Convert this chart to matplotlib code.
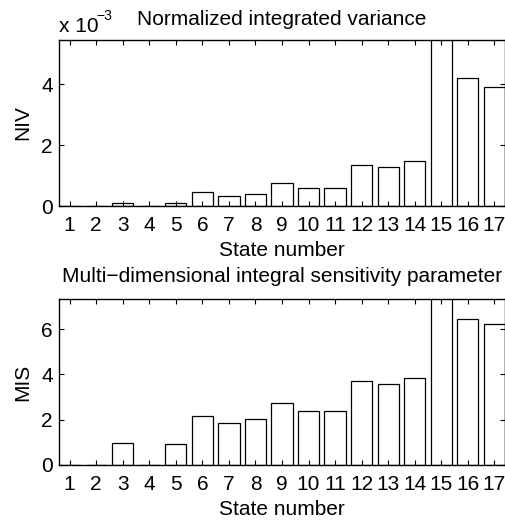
import numpy as np
import matplotlib
matplotlib.use('Agg')
import matplotlib.pyplot as plt
from matplotlib.ticker import MultipleLocator, FuncFormatter

matplotlib.rcParams['font.family'] = ['Liberation Sans', 'DejaVu Sans']
matplotlib.rcParams['font.size'] = 15

# state numbers and the two sensitivity measures
states = np.arange(1, 18)
niv = np.array([0.01, 0.01, 0.10, 0.01, 0.09, 0.47, 0.34, 0.41, 0.76,
                0.58, 0.59, 1.36, 1.27, 1.48, 9.0, 4.20, 3.90]) * 1e-3
mis = np.array([0.02, 0.02, 0.96, 0.02, 0.94, 2.18, 1.84, 2.02, 2.73,
                2.39, 2.40, 3.69, 3.57, 3.86, 10.5, 6.46, 6.22])

W, H = 506, 521
fig = plt.figure(figsize=(W / 100, H / 100), dpi=100)
ax1 = fig.add_axes([59 / W, 1 - 206 / H, 446 / W, 166 / H])
ax2 = fig.add_axes([59 / W, 1 - 465 / H, 446 / W, 166 / H])


def style(ax):
    ax.set_xticks(states)
    ax.margins(x=0)
    ax.tick_params(direction='in', length=3.5, width=0.8, top=True, right=True,
                   labelsize=15)
    ax.tick_params(axis='x', pad=7.5)
    ax.tick_params(axis='y', pad=4.5)
    for s in ax.spines.values():
        s.set_linewidth(1.0)
    ax.set_xlabel('State number', labelpad=4)


ax1.bar(states, niv, width=0.8, color='white', edgecolor='black', linewidth=0.9)
style(ax1)
ax1.set_ylim(0, 5.45e-3)
ax1.yaxis.set_major_locator(MultipleLocator(2e-3))
ax1.yaxis.set_major_formatter(FuncFormatter(lambda v, p: '%d' % round(v * 1e3)))
ax1.set_ylabel('NIV', labelpad=6.5)
ax1.set_title('Normalized integrated variance', pad=10.5, fontsize=15)
fig.text(59 / W, 1 - 31.7 / H, 'x 10', fontsize=15, va='baseline')
fig.text(96.5 / W, 1 - 20 / H, '\u22123', fontsize=10, va='baseline')

ax2.bar(states, mis, width=0.8, color='white', edgecolor='black', linewidth=0.9)
style(ax2)
ax2.set_ylim(0, 7.33)
ax2.yaxis.set_major_locator(MultipleLocator(2))
ax2.set_ylabel('MIS', labelpad=6.5)
ax2.set_title('Multi\u2212dimensional integral sensitivity parameter', pad=12,
              fontsize=15)

fig.savefig('out.png', dpi=100)
